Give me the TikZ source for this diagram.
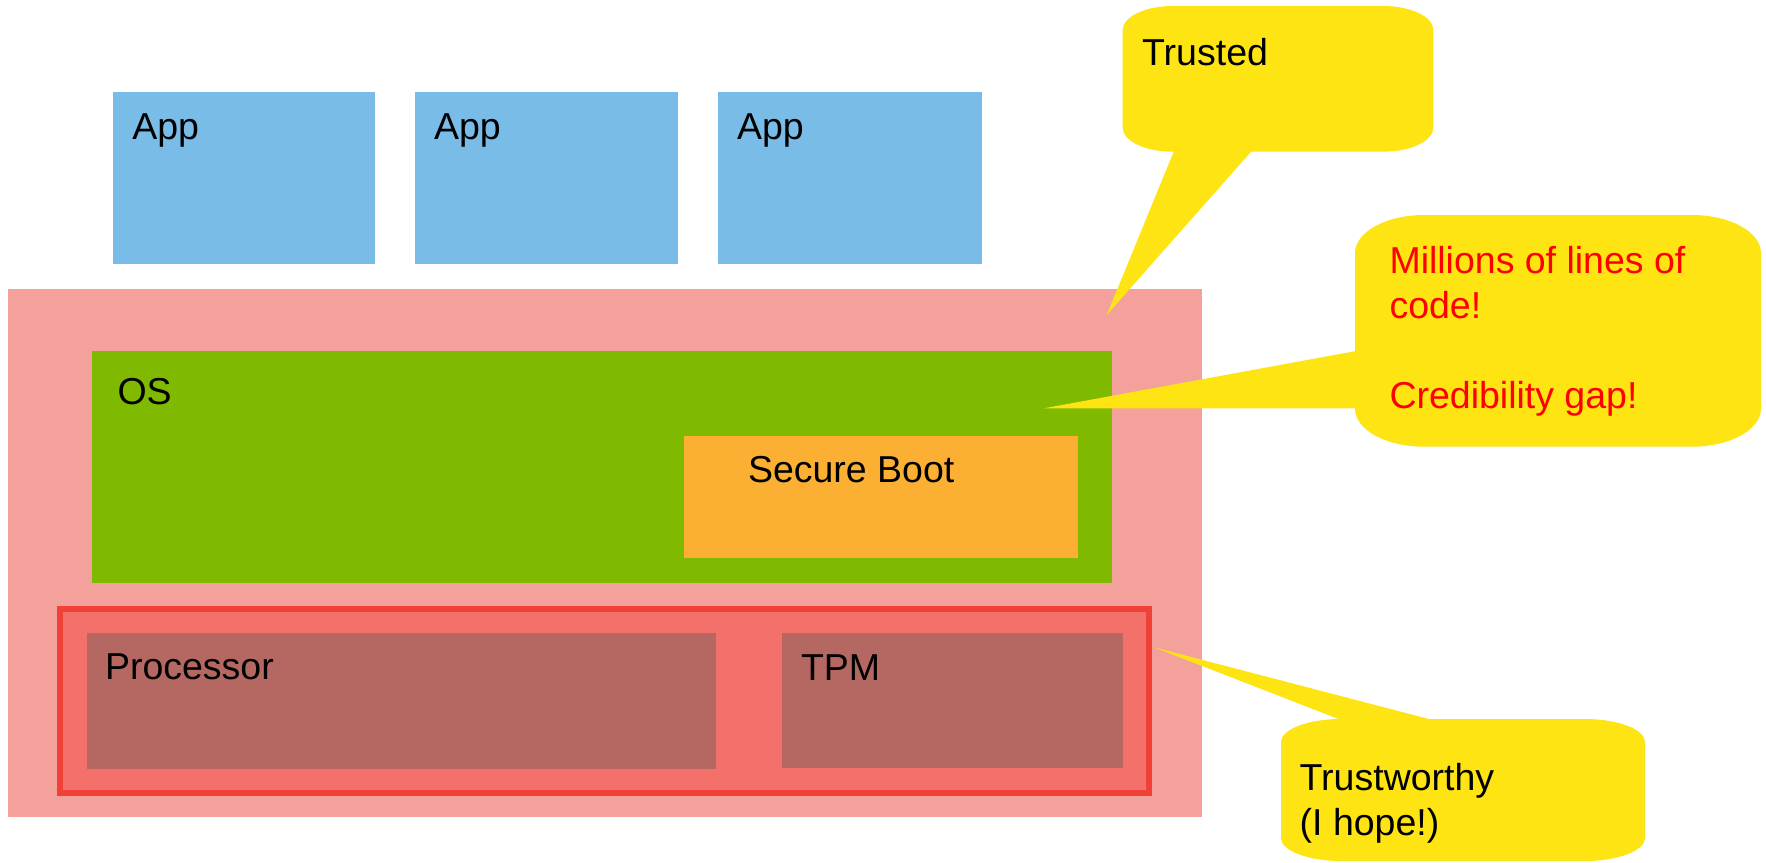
\documentclass[tikz,border=0pt]{standalone}
\usepackage{fontspec}
\setmainfont{Liberation Sans}
\usetikzlibrary{calc}

\definecolor{appblue}{HTML}{7ABCE8}
\definecolor{hwpink}{HTML}{F5A19B}
\definecolor{osgreen}{HTML}{7FBA00}
\definecolor{bootorange}{HTML}{FBB034}
\definecolor{trustfill}{HTML}{F3716A}
\definecolor{trustedge}{HTML}{EF4136}
\definecolor{chipbrown}{HTML}{B56862}
\definecolor{noteyellow}{HTML}{FFE413}
\definecolor{notered}{HTML}{FF0000}

% rounded rectangle with elliptical corners: x1 y1 x2 y2 rx ry
\newcommand\ovalrect[6]{%
  (#1+#5,#2) -- (#3-#5,#2)
  .. controls (#3-0.448*#5,#2) and (#3,#2+0.448*#6) .. (#3,#2+#6)
  -- (#3,#4-#6)
  .. controls (#3,#4-0.448*#6) and (#3-0.448*#5,#4) .. (#3-#5,#4)
  -- (#1+#5,#4)
  .. controls (#1+0.448*#5,#4) and (#1,#4-0.448*#6) .. (#1,#4-#6)
  -- (#1,#2+#6)
  .. controls (#1,#2+0.448*#6) and (#1+0.448*#5,#2) .. (#1+#5,#2) -- cycle}

\tikzset{
  block/.style={rectangle, inner sep=0pt, outer sep=0pt, draw=none, anchor=north west},
  lbl/.style={inner sep=0pt, outer sep=0pt, anchor=base west, align=left,
              font=\fontsize{37.5}{45}\selectfont, text=black},
  notefill/.style={fill=noteyellow, draw=none},
}

\begin{document}
\begin{tikzpicture}[x=1pt, y=-1pt]
\useasboundingbox (0,0) rectangle (1766,862);

% applications
\node[block, fill=appblue, minimum width=262.6, minimum height=172] (app1) at (112.7,92) {};
\node[block, fill=appblue, minimum width=263.3, minimum height=172] (app2) at (414.7,92) {};
\node[block, fill=appblue, minimum width=263.5, minimum height=172] (app3) at (718,92) {};
\node[lbl] (app1t) at (132.3,139.3) {App};
\node[lbl] (app2t) at (434,139.3) {App};
\node[lbl] (app3t) at (737,139.3) {App};

% platform
\node[block, fill=hwpink, minimum width=1193.7, minimum height=527.7] (platform) at (8,289.3) {};
\node[block, fill=osgreen, minimum width=1019.3, minimum height=232.5] (os) at (92.4,350.5) {};
\node[lbl] (ost) at (117.5,404) {OS};
\node[block, fill=bootorange, minimum width=394, minimum height=122] (boot) at (684,436) {};
\node[lbl] (boott) at (748,482.7) {Secure Boot};

% hardware root of trust
\node[block, fill=trustfill, draw=trustedge, line width=6pt, minimum width=1089, minimum height=184.1] (hw) at (60.3,608.7) {};
\node[block, fill=chipbrown, minimum width=629.3, minimum height=136.3] (cpu) at (87,632.7) {};
\node[lbl] (cput) at (105,679.3) {Processor};
\node[block, fill=chipbrown, minimum width=341, minimum height=135.3] (tpm) at (782,632.7) {};
\node[lbl] (tpmt) at (801,680.7) {TPM};

% callout: Trusted
\coordinate (trustedtip) at (1106.7,315);
\fill[notefill] \ovalrect{1122.7}{6}{1433.3}{151.7}{50}{24};
\fill[notefill] (1174,151) -- (trustedtip) -- (1251.7,151) -- cycle;
\node[lbl] (trustedt) at (1142.2,65) {Trusted};

% callout: code size (multi-line labels are anchored on their last baseline)
\coordinate (codetip) at (1044,408.3);
\fill[notefill] \ovalrect{1355}{215}{1761}{446.7}{69}{38};
\fill[notefill] (1356,351) -- (codetip) -- (1356,408.3) -- cycle;
\node[lbl, text=notered] (codet) at (1389.5,408) {Millions of lines of\\code!\\[45pt]Credibility gap!};

% callout: Trustworthy
\coordinate (hwtip) at (1154,647.3);
\fill[notefill] \ovalrect{1281}{719}{1645}{861}{60}{23};
\fill[notefill] (1341,720) -- (hwtip) -- (1432.8,720) -- cycle;
\node[lbl] (hwt) at (1299.7,835.5) {Trustworthy\\(I hope!)};
\end{tikzpicture}
\end{document}
